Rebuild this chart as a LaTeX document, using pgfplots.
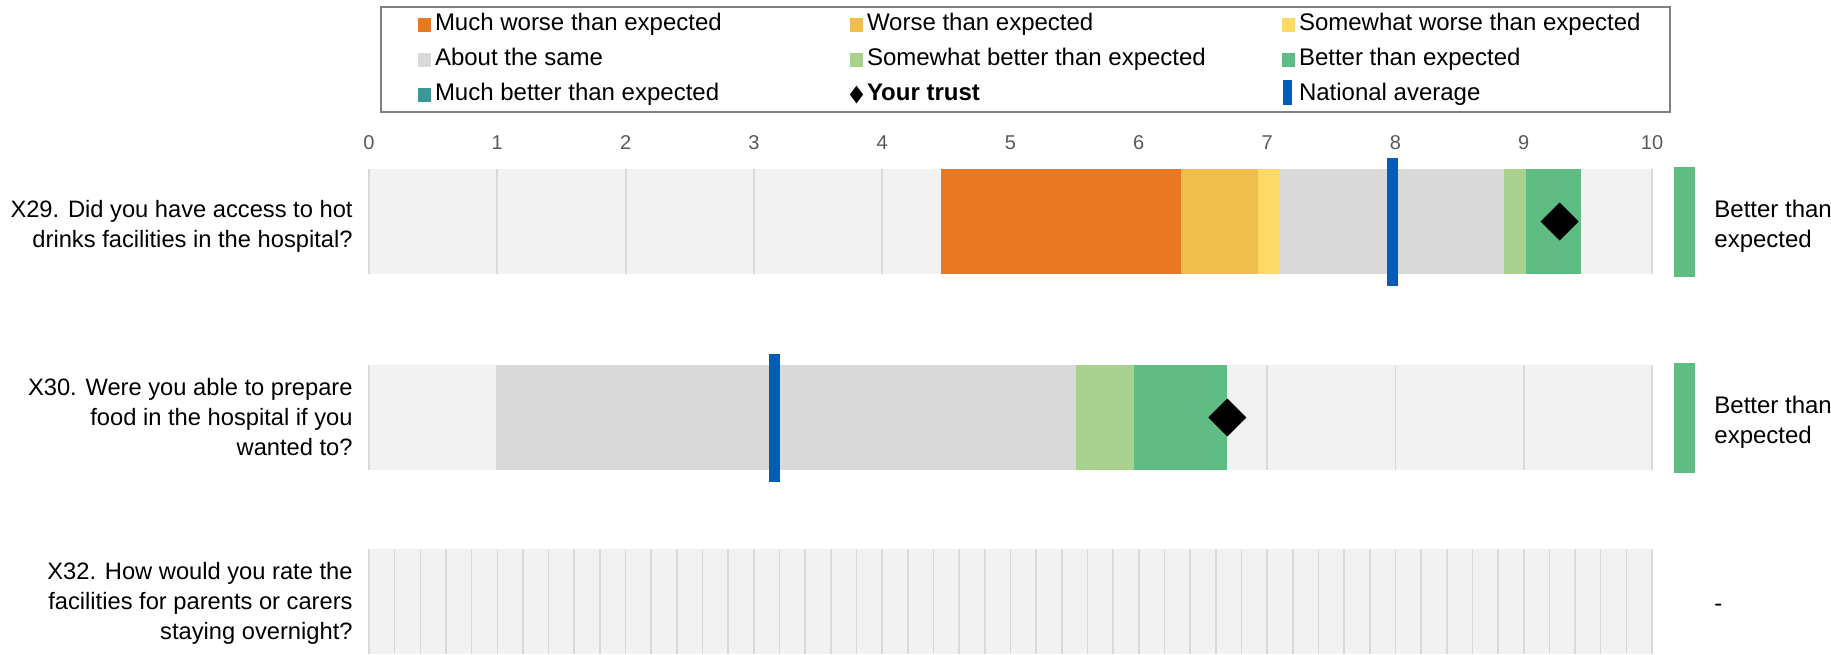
\documentclass[border=0pt]{standalone}
\usepackage{fontspec}
\setmainfont{Liberation Sans}
\usepackage{pgfplots}
\pgfplotsset{compat=1.18}

\definecolor{mworse}{HTML}{E87722}
\definecolor{worse}{HTML}{F0BF4B}
\definecolor{swworse}{HTML}{FFD966}
\definecolor{same}{HTML}{D9D9D9}
\definecolor{swbetter}{HTML}{A9D18E}
\definecolor{better}{HTML}{5FBC83}
\definecolor{mbetter}{HTML}{3A9797}
\definecolor{natavg}{HTML}{005EB8}
\definecolor{band}{HTML}{F2F2F2}
\definecolor{gridc}{HTML}{D9D9D9}
\definecolor{ticktxt}{HTML}{595959}
\definecolor{legframe}{HTML}{808080}

\pgfplotsset{
  rowaxis/.style={
    scale only axis, width=641.5pt, height=52.5pt,
    xmin=0, xmax=10, ymin=-52.5, ymax=52.5,
    axis line style={draw=none},
    axis background/.style={fill=band},
    major tick length=0pt, ytick=\empty,
    xmajorgrids, major grid style={draw=gridc, line width=0.9pt},
    clip=false, anchor=north west,
  },
  legsq/.style={legend image code/.code={\fill[#1] (0pt,-3pt) rectangle (5.5pt,3pt);}},
  legsqA/.style={legend image code/.code={\path (-6pt,0pt); \fill[#1] (0pt,-3pt) rectangle (5.5pt,3pt);}},
  trust/.style={only marks, mark=square*, mark size=6.5pt, mark options={rotate=45, fill=black, draw=none}, forget plot},
  avgline/.style={draw=natavg, line width=5.5pt, forget plot},
  seg/.style={fill=#1, draw=none, forget plot},
}
\tikzset{
  qlab/.style={anchor=east, align=right, inner sep=0pt, xshift=-8pt, font=\fontsize{11.85}{15}\selectfont},
  rlab/.style={anchor=west, align=left, inner sep=0pt, xshift=31pt, font=\fontsize{12}{15}\selectfont},
}

\begin{document}
\begin{tikzpicture}
\useasboundingbox (0pt,0pt) rectangle (915.5pt,-327pt);

% X29
\begin{axis}[rowaxis, at={(184.5pt,-84.5pt)},
    xtick={0,1,...,10}, xticklabel pos=upper,
    /pgf/number format/assume math mode=true,
    xticklabel style={font=\fontsize{10}{12}\selectfont, text=ticktxt, yshift=6pt},
    legend columns=3, legend cell align=left,
    legend style={at={(0.00857,2.552)}, anchor=north west, draw=legframe, line width=1pt,
      inner xsep=12.5pt, inner ysep=0pt, font=\fontsize{12}{14}\selectfont,
      nodes={inner xsep=2pt, inner ysep=2.75pt, text height=9pt, text depth=3pt},
      row sep=0pt, column sep=0pt}]
\addlegendimage{legsqA=mworse}
\addlegendentry{\makebox[205.5pt][l]{Much worse than expected}}
\addlegendimage{legsq=worse}
\addlegendentry{\makebox[205.5pt][l]{Worse than expected}}
\addlegendimage{legsq=swworse}
\addlegendentry{Somewhat worse than expected}
\addlegendimage{legsqA=same}
\addlegendentry{\makebox[205.5pt][l]{About the same}}
\addlegendimage{legsq=swbetter}
\addlegendentry{\makebox[205.5pt][l]{Somewhat better than expected}}
\addlegendimage{legsq=better}
\addlegendentry{Better than expected}
\addlegendimage{legsqA=mbetter}
\addlegendentry{\makebox[205.5pt][l]{Much better than expected}}
\addlegendimage{legend image code/.code={\fill[black] (2.75pt,3.6pt) -- (5.45pt,0pt) -- (2.75pt,-3.6pt) -- (0.05pt,0pt) -- cycle;}}
\addlegendentry{\makebox[205.5pt][l]{\textbf{Your trust}}}
\addlegendimage{legend image code/.code={\fill[natavg] (0.5pt,-4.75pt) rectangle (4pt,6.75pt);}}
\addlegendentry{National average}

\addplot[seg=mworse]   coordinates {(4.46,-52.5) (6.33,-52.5) (6.33,52.5) (4.46,52.5)};
\addplot[seg=worse]    coordinates {(6.33,-52.5) (6.93,-52.5) (6.93,52.5) (6.33,52.5)};
\addplot[seg=swworse]  coordinates {(6.93,-52.5) (7.10,-52.5) (7.10,52.5) (6.93,52.5)};
\addplot[seg=same]     coordinates {(7.10,-52.5) (8.85,-52.5) (8.85,52.5) (7.10,52.5)};
\addplot[seg=swbetter] coordinates {(8.85,-52.5) (9.02,-52.5) (9.02,52.5) (8.85,52.5)};
\addplot[seg=better]   coordinates {(9.02,-52.5) (9.45,-52.5) (9.45,52.5) (9.02,52.5)};
\addplot[avgline] coordinates {(7.98,-64) (7.98,64)};
\addplot[trust] coordinates {(9.28,0)};
\addplot[seg=better] coordinates {(10.171,-55) (10.335,-55) (10.335,55) (10.171,55)};
\node[qlab, yshift=-2.5pt] at (rel axis cs:0,0.5) {X29. Did you have access to hot\\drinks facilities in the hospital?};
\node[rlab, yshift=-2.5pt] at (rel axis cs:1,0.5) {Better than\\expected};
\end{axis}

% X30
\begin{axis}[rowaxis, at={(184.5pt,-182.5pt)}, xtick={0,1,...,10}, xticklabels={}]
\addplot[seg=same]     coordinates {(1.00,-52.5) (5.51,-52.5) (5.51,52.5) (1.00,52.5)};
\addplot[seg=swbetter] coordinates {(5.51,-52.5) (5.96,-52.5) (5.96,52.5) (5.51,52.5)};
\addplot[seg=better]   coordinates {(5.96,-52.5) (6.69,-52.5) (6.69,52.5) (5.96,52.5)};
\addplot[avgline] coordinates {(3.16,-64) (3.16,64)};
\addplot[trust] coordinates {(6.69,0)};
\addplot[seg=better] coordinates {(10.171,-55) (10.335,-55) (10.335,55) (10.171,55)};
\node[qlab] at (rel axis cs:0,0.5) {X30. Were you able to prepare\\food in the hospital if you\\wanted to?};
\node[rlab, yshift=-2.5pt] at (rel axis cs:1,0.5) {Better than\\expected};
\end{axis}

% X32
\begin{axis}[rowaxis, at={(184.5pt,-274.5pt)}, xtick distance=0.2, xticklabels={},
    major grid style={draw=gridc, line width=0.8pt}]
\node[qlab, yshift=-1pt] at (rel axis cs:0,0.5) {X32. How would you rate the\\facilities for parents or carers\\staying overnight?};
\node[rlab, yshift=-3pt] at (rel axis cs:1,0.5) {-};
\end{axis}
\end{tikzpicture}
\end{document}
